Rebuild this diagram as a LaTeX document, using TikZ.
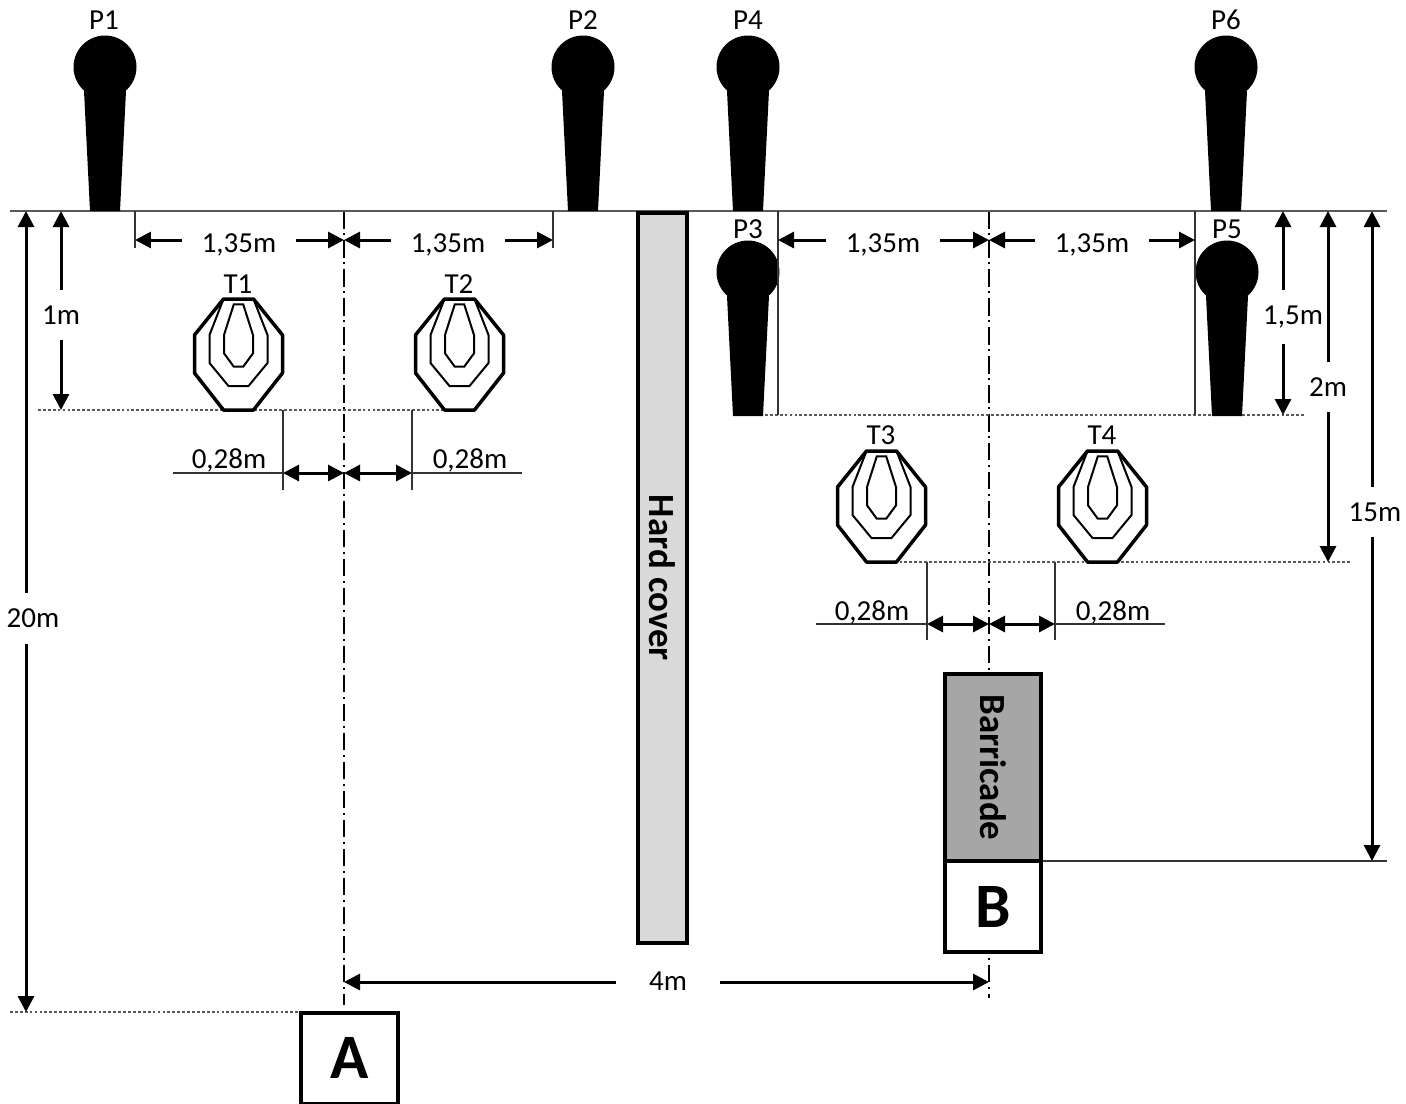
\documentclass[tikz,border=0pt]{standalone}
\usepackage{fontspec}
\setmainfont{Carlito}
\usetikzlibrary{arrows.meta}

\begin{document}
\begin{tikzpicture}[x=0.02cm, y=-0.02cm, every node/.style={inner sep=0pt}]

\tikzset{
    ground/.style={draw=black!65, line width=0.025cm},
    thinline/.style={draw=black!80, line width=0.024cm},
    dotline/.style={draw=black!65, line width=0.022cm, dash pattern=on 1.6pt off 1.2pt},
    axisline/.style={black, line width=0.035cm, dash pattern=on 10pt off 2.8pt on 0.9pt off 2.8pt},
    dimarrow/.style={black, line width=0.06cm, {Triangle[length=0.32cm, width=0.32cm]}-{Triangle[length=0.32cm, width=0.32cm]}},
    tag/.style={font=\fontsize{16.5}{18}\selectfont},
    dimh/.style={tag, fill=white, inner xsep=0.4cm, inner ysep=0.1cm},
    dimv/.style={tag, fill=white, inner xsep=1pt, inner ysep=0.32cm},
    wall/.style={draw=black, line width=0.08cm, font=\fontsize{21}{23}\selectfont\bfseries},
    bigletter/.style={wall, fill=white, font=\fontsize{36}{38}\selectfont\bfseries},
    popper/.pic={
        \fill[black] (0,-144) circle (31.5);
        \fill[black] (-21,-120) -- (21,-120) -- (15,0) -- (-15,0) -- cycle;
    },
    target/.pic={
        \draw[black, line width=0.07cm, line join=round] (-15,-111) -- (15,-111) -- (44,-75) -- (44,-37)
            -- (15,0) -- (-15,0) -- (-44,-37) -- (-44,-75) -- cycle;
        \draw[black, line width=0.04cm] (-15,-111) -- (-29,-75) -- (-29,-47) -- (-10,-24) -- (10,-24)
            -- (29,-47) -- (29,-75) -- (15,-111);
        \draw[black, line width=0.04cm] (-4.7,-105.7) -- (4.7,-105.7) -- (14.5,-75) -- (14.5,-56.7)
            -- (4.7,-43.3) -- (-4.7,-43.3) -- (-14.5,-56.7) -- (-14.5,-75) -- cycle;
    }
}

\useasboundingbox (0,0) rectangle (1406,1103);

% end points of all the lines
\foreach \n/\x/\y in {gl/10/211, gr/1387/211,
    axa/344/211, axab/344/1005, axb/989/211, axbb/989/998,
    topd/26/211, botd/26/1012, topc/61/211, botc/61/410,
    e1/135/211, e1b/135/248, e2/553/211, e2b/553/248,
    e3/778/211, e3b/778/415, e4/1195/211, e4b/1195/415,
    r1/344/240, l1/135/240, l2/553/240, l3/778/240, r3/989/240, l4/1195/240,
    s1/283/410, s1b/283/490, s2/412/410, s2b/412/490,
    m1/173/473, n1/283/473, c1/344/473, n2/412/473, m2/522/473,
    s3/927/562, s3b/927/640, s4/1055/562, s4b/1055/640,
    m3/816/624, n3/927/624, c2/989/624, n4/1055/624, m4/1165/624,
    v1/1283/211, v1b/1283/415, v2/1328/211, v2b/1328/562, v3/1372/211, v3b/1372/861,
    w1/344/982, w2/989/982,
    q1/38/410, q2/445/410, q3/765/415, q4/1306/415, q5/870/562, q6/1350/562,
    q7/10/1012, q8/300/1012, q9/1042/861, q10/1387/861} {
    \coordinate (\n) at (\x,\y);
}

\draw[axisline] (axa) -- (axab);
\draw[axisline] (axb) -- (axbb);
\draw[ground] (gl) -- (gr);
\draw[dotline] (q1) -- (q2);
\draw[dotline] (q3) -- (q4);
\draw[dotline] (q5) -- (q6);
\draw[dotline] (q7) -- (q8);
\draw[thinline] (q9) -- (q10);

% poppers and targets
\foreach \x/\y in {105/211, 583/211, 748/211, 1226/211, 748/416, 1227/416} {
    \pic at (\x,\y) {popper};
}
\foreach \x/\y in {238.5/410, 459.5/410, 881.5/562, 1102.5/562} {
    \pic at (\x,\y) {target};
}
\foreach \n/\x/\y in {P1/104/20, P2/583/20, P4/748/20, P6/1226/20, P3/748/229, P5/1227/229,
    T1/238/284, T2/459/284, T3/881/435, T4/1102/435} {
    \node[tag] (lab\n) at (\x,\y) {\n};
}

% extension lines
\foreach \a/\b in {e1/e1b, e2/e2b, e3/e3b, e4/e4b, s1/s1b, s2/s2b, s3/s3b, s4/s4b, m1/n1, n2/m2, m3/n3, n4/m4} {
    \draw[thinline] (\a) -- (\b);
}

% dimensions
\foreach \a/\b in {topd/botd, topc/botc, l1/r1, r1/l2, l3/r3, r3/l4, n1/c1, c1/n2, n3/c2, c2/n4,
    v1/v1b, v2/v2b, v3/v3b, w1/w2} {
    \draw[dimarrow] (\a) -- (\b);
}

\node[dimh] (d1) at (239,245) {1,35m};
\node[dimh] (d2) at (448,245) {1,35m};
\node[dimh] (d3) at (883,245) {1,35m};
\node[dimh] (d4) at (1092,245) {1,35m};
\node[tag] (d5) at (229,460) {0,28m};
\node[tag] (d6) at (470,460) {0,28m};
\node[tag] (d7) at (872,612) {0,28m};
\node[tag] (d8) at (1113,612) {0,28m};
\node[dimv] (d9) at (33,618) {20m};
\node[dimv] (d10) at (61,315) {1m};
\node[dimv] (d11) at (1293,317) {1,5m};
\node[dimv] (d12) at (1328,387) {2m};
\node[dimv] (d13) at (1375,512) {15m};
\node[dimh, inner xsep=0.66cm] (d14) at (668,981) {4m};

% cover and boxes
\node[wall, fill=black!15, rotate=-90, minimum width=14.6cm, minimum height=0.98cm] (hard) at (662.5,578) {Hard cover};
\node[wall, fill=black!35, rotate=-90, minimum width=3.74cm, minimum height=1.92cm] (barricade) at (993,767.5) {Barricade};
\node[bigletter, minimum width=1.92cm, minimum height=1.82cm] (boxB) at (993,906.5) {\raisebox{-2pt}{B}};
\node[bigletter, minimum width=1.94cm, minimum height=1.82cm] (boxA) at (349.5,1058) {\raisebox{-2pt}{A}};

\end{tikzpicture}
\end{document}
